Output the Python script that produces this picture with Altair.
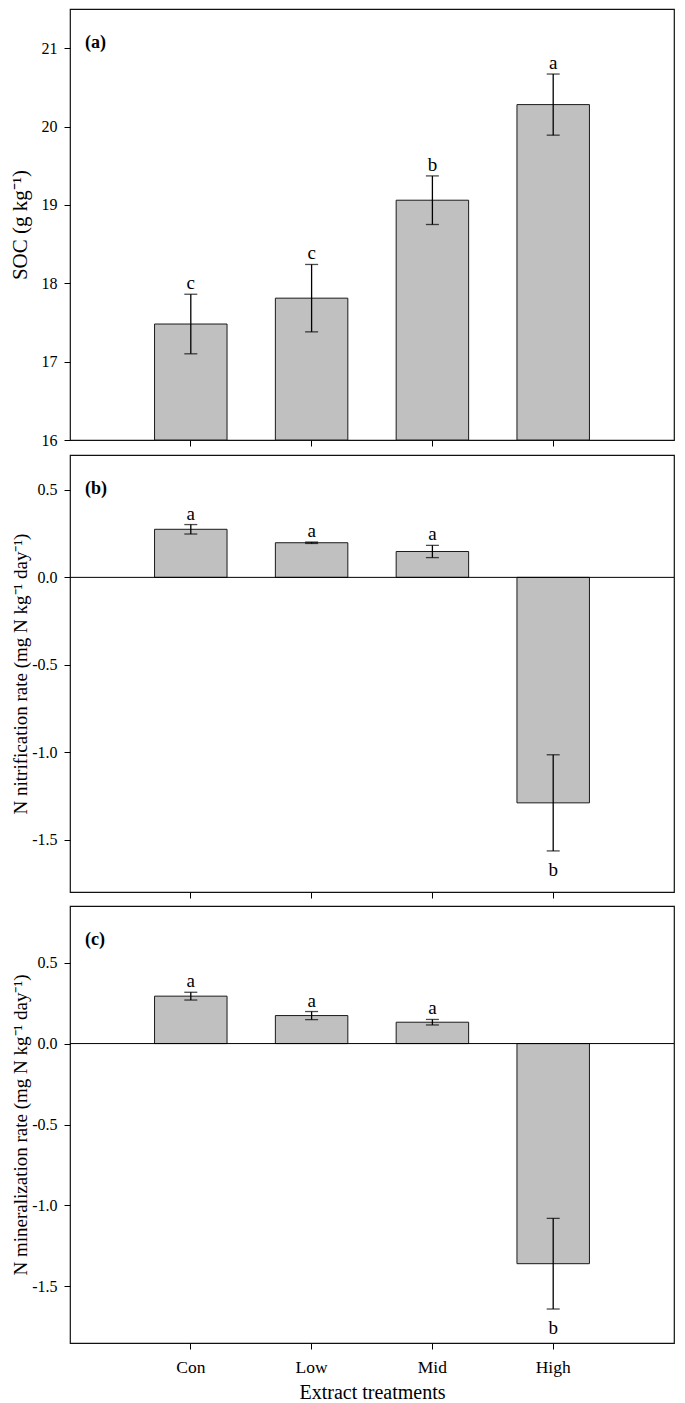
import altair as alt
import pandas as pd

treatments = ["Con", "Low", "Mid", "High"]

soc_mean = [17.48, 17.81, 19.06, 20.28]
soc_se = [0.38, 0.43, 0.31, 0.39]
soc_letters = ["c", "c", "b", "a"]

nit_mean = [0.275, 0.198, 0.148, -1.29]
nit_se = [0.027, 0.004, 0.035, 0.275]
nit_letters = ["a", "a", "a", "b"]

min_mean = [0.293, 0.173, 0.132, -1.36]
min_se = [0.024, 0.025, 0.017, 0.28]
min_letters = ["a", "a", "a", "b"]

soc_ticks = [16, 17, 18, 19, 20, 21]
rate_ticks = [-1.5, -1.0, -0.5, 0.0, 0.5]

SERIF = "Liberation Serif"
W = 604
MINUS = "\u2212"


def make_df(mean, se, letters):
    df = pd.DataFrame({"treatment": treatments, "mean": mean, "se": se, "letter": letters})
    df["lo"] = df["mean"] - df["se"]
    df["hi"] = df["mean"] + df["se"]
    return df


def panel(df, tag, title, domain, ticks, height, fmt, title_size, base=None, last=False):
    if last:
        xaxis = alt.Axis(title="Extract treatments", labelAngle=0, labelFontSize=17.5,
                         labelPadding=9, titleFontSize=20, titlePadding=7,
                         tickSize=6, tickColor="black")
    else:
        xaxis = alt.Axis(title=None, labels=False, tickSize=6, tickColor="black")
    x = alt.X("treatment:N", sort=treatments,
              scale=alt.Scale(paddingInner=0.4, paddingOuter=0.7), axis=xaxis)

    yscale = alt.Scale(domain=domain, nice=False, zero=False)
    yaxis = alt.Axis(values=ticks, title=title, titleX=-44, titleBaseline="alphabetic",
                     titleFontSize=title_size,
                     labelExpr="replace(format(datum.value, '%s'), '%s', '-')" % (fmt, MINUS),
                     labelFlush=False, labelOverlap=False)

    base_chart = alt.Chart(df)
    bar_enc = dict(x=x, y=alt.Y("mean:Q", scale=yscale, axis=yaxis))
    if base is not None:
        bar_enc["y2"] = alt.datum(base)
    bars = base_chart.mark_bar(color="#c0c0c0", stroke="#1a1a1a", strokeWidth=1).encode(**bar_enc)

    err = base_chart.mark_rule(color="black", strokeWidth=1.3).encode(
        x=x, y=alt.Y("lo:Q"), y2="hi:Q")
    cap_hi = base_chart.mark_tick(color="black", size=13, thickness=1.3, orient="horizontal").encode(
        x=x, y=alt.Y("hi:Q"))
    cap_lo = base_chart.mark_tick(color="black", size=13, thickness=1.3, orient="horizontal").encode(
        x=x, y=alt.Y("lo:Q"))

    txt_pos = base_chart.transform_filter("datum.mean >= 0").mark_text(
        font=SERIF, fontSize=19, baseline="alphabetic", dy=-5, color="black").encode(
        x=x, y=alt.Y("hi:Q"), text="letter:N")
    txt_neg = base_chart.transform_filter("datum.mean < 0").mark_text(
        font=SERIF, fontSize=19, baseline="top", dy=10, color="black").encode(
        x=x, y=alt.Y("lo:Q"), text="letter:N")

    tag_chart = alt.Chart(pd.DataFrame({"t": [tag]})).mark_text(
        font=SERIF, fontSize=18, fontWeight="bold", align="left", baseline="middle",
        color="black").encode(text="t:N", x=alt.value(15), y=alt.value(34))

    layers = [bars]
    if base is None:
        zero = alt.Chart(pd.DataFrame({"z": [0]})).mark_rule(color="black", strokeWidth=1).encode(
            y=alt.Y("z:Q"))
        layers.append(zero)
    layers += [err, cap_hi, cap_lo, txt_pos, txt_neg, tag_chart]
    return alt.layer(*layers).properties(width=W, height=height)


pa = panel(make_df(soc_mean, soc_se, soc_letters), "(a)", "SOC (g kg\u207b\u00b9)",
           [16, 21.5], soc_ticks, 431, "d", 21, base=16)
pb = panel(make_df(nit_mean, nit_se, nit_letters), "(b)",
           "N nitrification rate (mg N kg\u207b\u00b9 day\u207b\u00b9)",
           [-1.8, 0.7], rate_ticks, 437, ".1f", 19)
pc = panel(make_df(min_mean, min_se, min_letters), "(c)",
           "N mineralization rate (mg N kg\u207b\u00b9 day\u207b\u00b9)",
           [-1.85, 0.85], rate_ticks, 437, ".1f", 19, last=True)

chart = alt.vconcat(pa, pb, pc, spacing=5).properties(padding=0).configure_view(
    stroke="#111111", strokeWidth=1.2
).configure_axis(
    domain=False, grid=False,
    labelFont=SERIF, labelFontSize=16, labelColor="black",
    titleFont=SERIF, titleFontSize=21, titleFontWeight="normal", titleColor="black",
    tickColor="black", tickSize=6, labelPadding=7,
)

chart.save("out.html", embed_options={"renderer": "svg", "actions": False})
